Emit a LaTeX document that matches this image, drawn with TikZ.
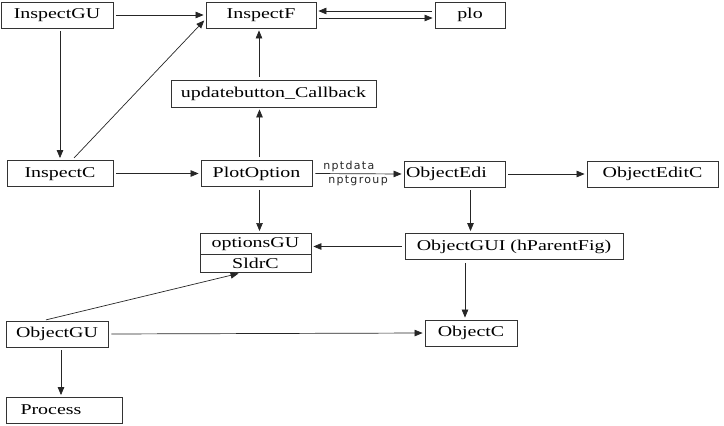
\documentclass[tikz,border=0pt]{standalone}
\usepackage{fontspec}
\setmainfont{Liberation Serif}[FakeStretch=1.33]
\newfontfamily\lblfont{DejaVu Sans}[LetterSpace=12]
\usetikzlibrary{arrows.meta,shapes.multipart}
\tikzset{
	box/.style={draw=black!80, line width=0.8pt, minimum height=26pt, inner ysep=0pt, inner xsep=2pt,
		text height=10pt, text depth=3pt},
	leftbox/.style={box, align=left},
	link/.style={-{Triangle[length=8pt,width=6.5pt]}, black!85, line width=0.7pt,
		shorten >=2pt, shorten <=3pt},
	lbl/.style={font=\lblfont\fontsize{11}{13}\selectfont, inner sep=2pt}
}
\begin{document}
\begin{tikzpicture}[x=1pt,y=-1pt]
\useasboundingbox (0,0) rectangle (724,426);
\fontsize{15}{17}\selectfont
% boxes of the diagram
	\node[box, minimum width=112] (InspectGU) at (57,15) {InspectGU};
	\node[box, minimum width=110] (InspectF) at (261,15) {InspectF\hspace{12pt}};
	\node[box, minimum width=70] (plo) at (470,15) {plo};
	\node[box, minimum width=205, minimum height=27] (upd) at (273.5,93.5) {updatebutton\_Callback};
	\node[box, minimum width=106] (InspectC) at (60,173.5) {InspectC};
	\node[box, minimum width=111] (PlotOption) at (256.5,173.5) {PlotOption};
	\node[leftbox, text width=97pt] (ObjectEdi) at (454.5,174) {ObjectEdi};
	\node[box, minimum width=131] (ObjectEditC) at (652.5,174) {ObjectEditC};
	\node[box, rectangle split, rectangle split parts=2, minimum height=0pt, inner ysep=3.5pt,
		minimum width=111] (opts) at (255.5,253) {optionsGU \nodepart{two} SldrC};
	\node[box, minimum width=218] (ObjectGUI) at (514,246.5) {ObjectGUI (hParentFig)};
	\node[box, minimum width=102] (ObjectGU) at (57,334) {ObjectGU};
	\node[box, minimum width=92] (ObjectC) at (471,333) {ObjectC\hspace{8pt}};
	\node[leftbox, text width=100pt, inner xsep=8pt] (Process) at (64.5,410.5) {\hspace{6pt}Process};
% connectors
	\draw[link] (InspectGU.east) -- (InspectF.west);
	\draw[link] ([yshift=4]plo.west) -- ([yshift=4]InspectF.east);
	\draw[link] ([yshift=-3]InspectF.east) -- ([yshift=-3]plo.west);
	\draw[link] (InspectGU.south -| InspectC) -- (InspectC.north);
	\draw[link] ([xshift=12]InspectC.north) -- ([yshift=-4]InspectF.west);
	\draw[link] ([xshift=-2]upd.north -| InspectF) -- ([xshift=-2]InspectF.south);
	\draw[link] ([xshift=3]PlotOption.north) -- ([xshift=3]PlotOption.north |- upd.south);
	\draw[link] (InspectC.east) -- (PlotOption.west);
	\draw[link] (PlotOption.east) -- (ObjectEdi.west)
		node[lbl, pos=0.4, above] {nptdata}
		node[lbl, pos=0.5, below] {nptgroup};
	\draw[link] (ObjectEdi.east) -- (ObjectEditC.west);
	\draw[link] ([xshift=16]ObjectEdi.south) -- ([xshift=16]ObjectEdi.south |- ObjectGUI.north);
	\draw[link] ([xshift=3]PlotOption.south) -- ([xshift=3]PlotOption.south |- opts.north);
	\draw[link] (ObjectGUI.west) -- (ObjectGUI.west -| opts.east);
	\draw[link] ([xshift=-14]ObjectGU.north) -- ([xshift=-15]opts.south);
	\draw[link] (ObjectGU.east) -- (ObjectC.west);
	\draw[link] ([xshift=-6]ObjectC.north |- ObjectGUI.south) -- ([xshift=-6]ObjectC.north);
	\draw[link] ([xshift=4]ObjectGU.south) -- ([xshift=4]ObjectGU.south |- Process.north);
\end{tikzpicture}
\end{document}
